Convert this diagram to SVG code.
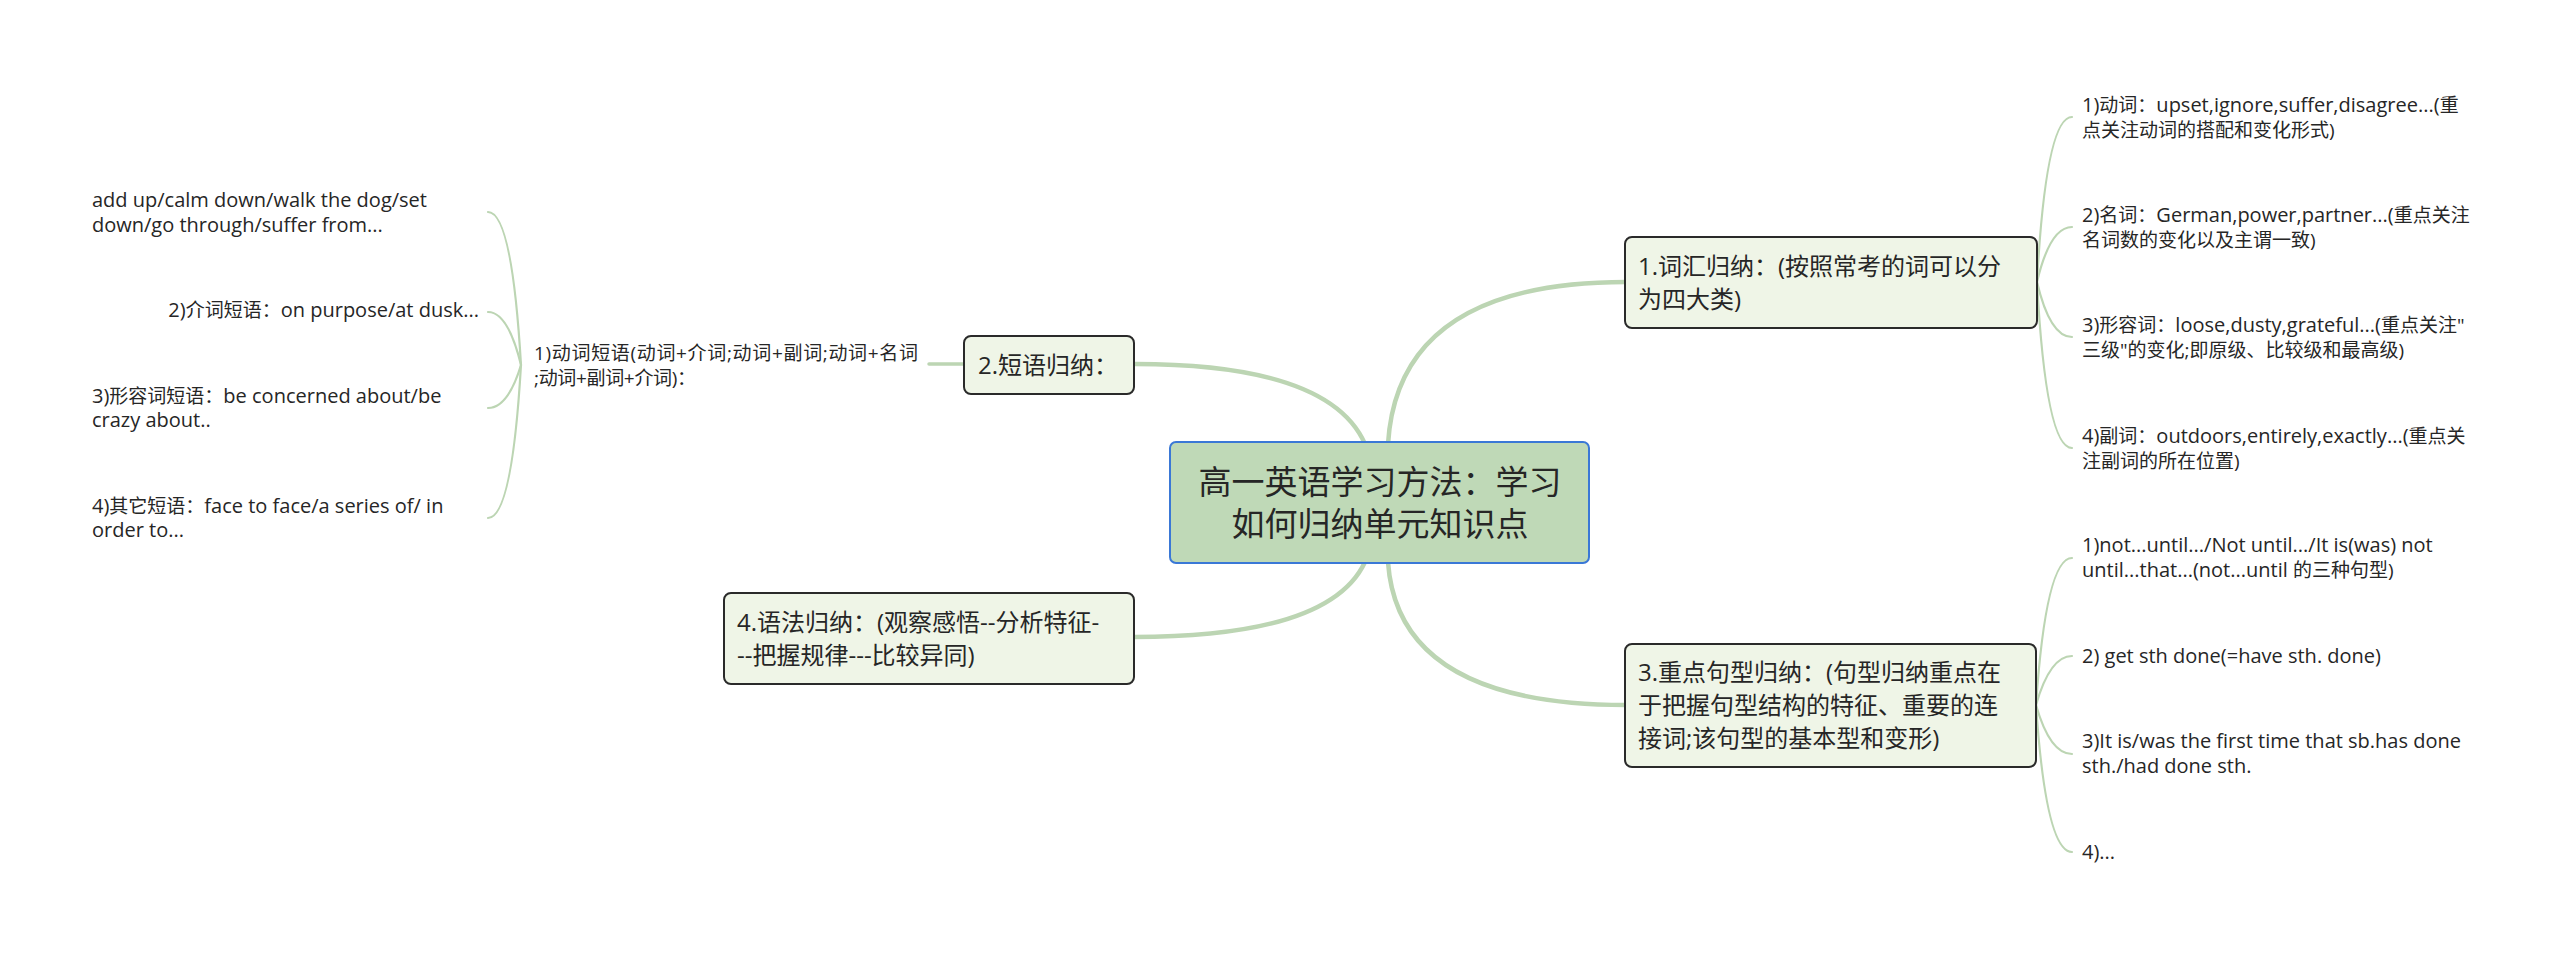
<svg xmlns="http://www.w3.org/2000/svg" width="2560" height="957" viewBox="0 0 2560 957">
<style>
text{font-family:"Open Sans","Noto Sans CJK SC",sans-serif;fill:#262626}
.leaf{font-size:19px}
.l{font-size:20px}
.topic{font-size:24px}
.central{font-size:33px}
.box{fill:#eff5e7;stroke:#2a2a2a;stroke-width:2}
.cbox{fill:#bfd9b7;stroke:#3a78d6;stroke-width:2}
.main{fill:none;stroke:#bcd5b3;stroke-width:4.5;stroke-linecap:round}
.sub{fill:none;stroke:#bcd5b3;stroke-width:3.5;stroke-linecap:round}
.thin{fill:none;stroke:#bcd5b3;stroke-width:2.2;stroke-linecap:round}
</style>
<rect width="2560" height="957" fill="#ffffff"/>
<g id="connectors">
<path class="main" d="M1388,444 Q1398,282 1626,282"/>
<path class="main" d="M1365,444 Q1330,364 1135,364"/>
<path class="main" d="M1365,562 Q1330,637 1134,637"/>
<path class="main" d="M1388,562 Q1398,705 1626,705"/>
<path class="sub" d="M964,364 L929,364"/>
<path class="thin" d="M2037,282 Q2046,117 2072,117"/>
<path class="thin" d="M2037,282 Q2050,227 2072,227"/>
<path class="thin" d="M2037,282 Q2050,337 2072,337"/>
<path class="thin" d="M2037,282 Q2046,448 2072,448"/>
<path class="thin" d="M2036,705 Q2046,558 2072,558"/>
<path class="thin" d="M2036,705 Q2050,656 2072,656"/>
<path class="thin" d="M2036,705 Q2050,754 2072,754"/>
<path class="thin" d="M2036,705 Q2046,852 2072,852"/>
<path class="thin" d="M521,365 Q512,212 488,212"/>
<path class="thin" d="M521,365 Q508,312 488,312"/>
<path class="thin" d="M521,365 Q508,408 488,408"/>
<path class="thin" d="M521,365 Q512,518 488,518"/>
</g>
<g id="central">
<rect class="cbox" x="1170" y="442" width="419" height="121" rx="6"/>
<text class="central" x="1380" y="494" text-anchor="middle">高一英语学习方法：学习</text>
<text class="central" x="1380" y="536" text-anchor="middle">如何归纳单元知识点</text>
</g>
<g id="n1">
<rect class="box" x="1625" y="237" width="412" height="91" rx="7"/>
<text class="topic" x="1638" y="275">1.词汇归纳：(按照常考的词可以分</text>
<text class="topic" x="1638" y="308">为四大类)</text>
</g>
<g id="n2">
<rect class="box" x="964" y="336" width="170" height="58" rx="7"/>
<text class="topic" x="978" y="374">2.短语归纳：</text>
</g>
<g id="n3">
<rect class="box" x="1625" y="644" width="411" height="123" rx="7"/>
<text class="topic" x="1638" y="681">3.重点句型归纳：(句型归纳重点在</text>
<text class="topic" x="1638" y="714">于把握句型结构的特征、重要的连</text>
<text class="topic" x="1638" y="747">接词;该句型的基本型和变形)</text>
</g>
<g id="n4">
<rect class="box" x="724" y="593" width="410" height="91" rx="7"/>
<text class="topic" x="737" y="631">4.语法归纳：(观察感悟--分析特征-</text>
<text class="topic" x="737" y="664">--把握规律---比较异同)</text>
</g>
<g id="n1-1">
<text class="leaf" x="2082" y="112"><tspan class="l">1)</tspan>动词：<tspan class="l">upset,ignore,suffer,disagree...(</tspan>重</text>
<text class="leaf" x="2082" y="137">点关注动词的搭配和变化形式)</text>
</g>
<g id="n1-2">
<text class="leaf" x="2082" y="222"><tspan class="l">2)</tspan>名词：<tspan class="l">German,power,partner...(</tspan>重点关注</text>
<text class="leaf" x="2082" y="247">名词数的变化以及主谓一致)</text>
</g>
<g id="n1-3">
<text class="leaf" x="2082" y="332"><tspan class="l">3)</tspan>形容词：<tspan class="l">loose,dusty,grateful...(</tspan>重点关注"</text>
<text class="leaf" x="2082" y="357">三级"的变化;即原级、比较级和最高级)</text>
</g>
<g id="n1-4">
<text class="leaf" x="2082" y="443"><tspan class="l">4)</tspan>副词：<tspan class="l">outdoors,entirely,exactly...(</tspan>重点关</text>
<text class="leaf" x="2082" y="468">注副词的所在位置)</text>
</g>
<g id="n3-1">
<text class="leaf" x="2082" y="552"><tspan class="l">1)not...until.../Not until.../It is(was) not</tspan></text>
<text class="leaf" x="2082" y="577"><tspan class="l">until...that...(not...until </tspan>的三种句型)</text>
</g>
<g id="n3-2">
<text class="leaf" x="2082" y="663"><tspan class="l">2) get sth done(=have sth. done)</tspan></text>
</g>
<g id="n3-3">
<text class="leaf" x="2082" y="748"><tspan class="l">3)It is/was the first time that sb.has done</tspan></text>
<text class="leaf" x="2082" y="773"><tspan class="l">sth./had done sth.</tspan></text>
</g>
<g id="n3-4">
<text class="leaf" x="2082" y="859"><tspan class="l">4)...</tspan></text>
</g>
<g id="n2-1">
<text class="leaf" x="534" y="360" textLength="384" lengthAdjust="spacing">1)动词短语(动词+介词;动词+副词;动词+名词</text>
<text class="leaf" x="534" y="385" textLength="162" lengthAdjust="spacing">;动词+副词+介词)：</text>
</g>
<g id="n2-1-1">
<text class="leaf" x="92" y="207"><tspan class="l">add up/calm down/walk the dog/set</tspan></text>
<text class="leaf" x="92" y="232"><tspan class="l">down/go through/suffer from...</tspan></text>
</g>
<g id="n2-1-2">
<text class="leaf" x="479" y="317" text-anchor="end"><tspan class="l">2)</tspan>介词短语：<tspan class="l">on purpose/at dusk...</tspan></text>
</g>
<g id="n2-1-3">
<text class="leaf" x="92" y="403"><tspan class="l">3)</tspan>形容词短语：<tspan class="l">be concerned about/be</tspan></text>
<text class="leaf" x="92" y="427"><tspan class="l">crazy about..</tspan></text>
</g>
<g id="n2-1-4">
<text class="leaf" x="92" y="513"><tspan class="l">4)</tspan>其它短语：<tspan class="l">face to face/a series of/ in</tspan></text>
<text class="leaf" x="92" y="537"><tspan class="l">order to...</tspan></text>
</g>
</svg>
